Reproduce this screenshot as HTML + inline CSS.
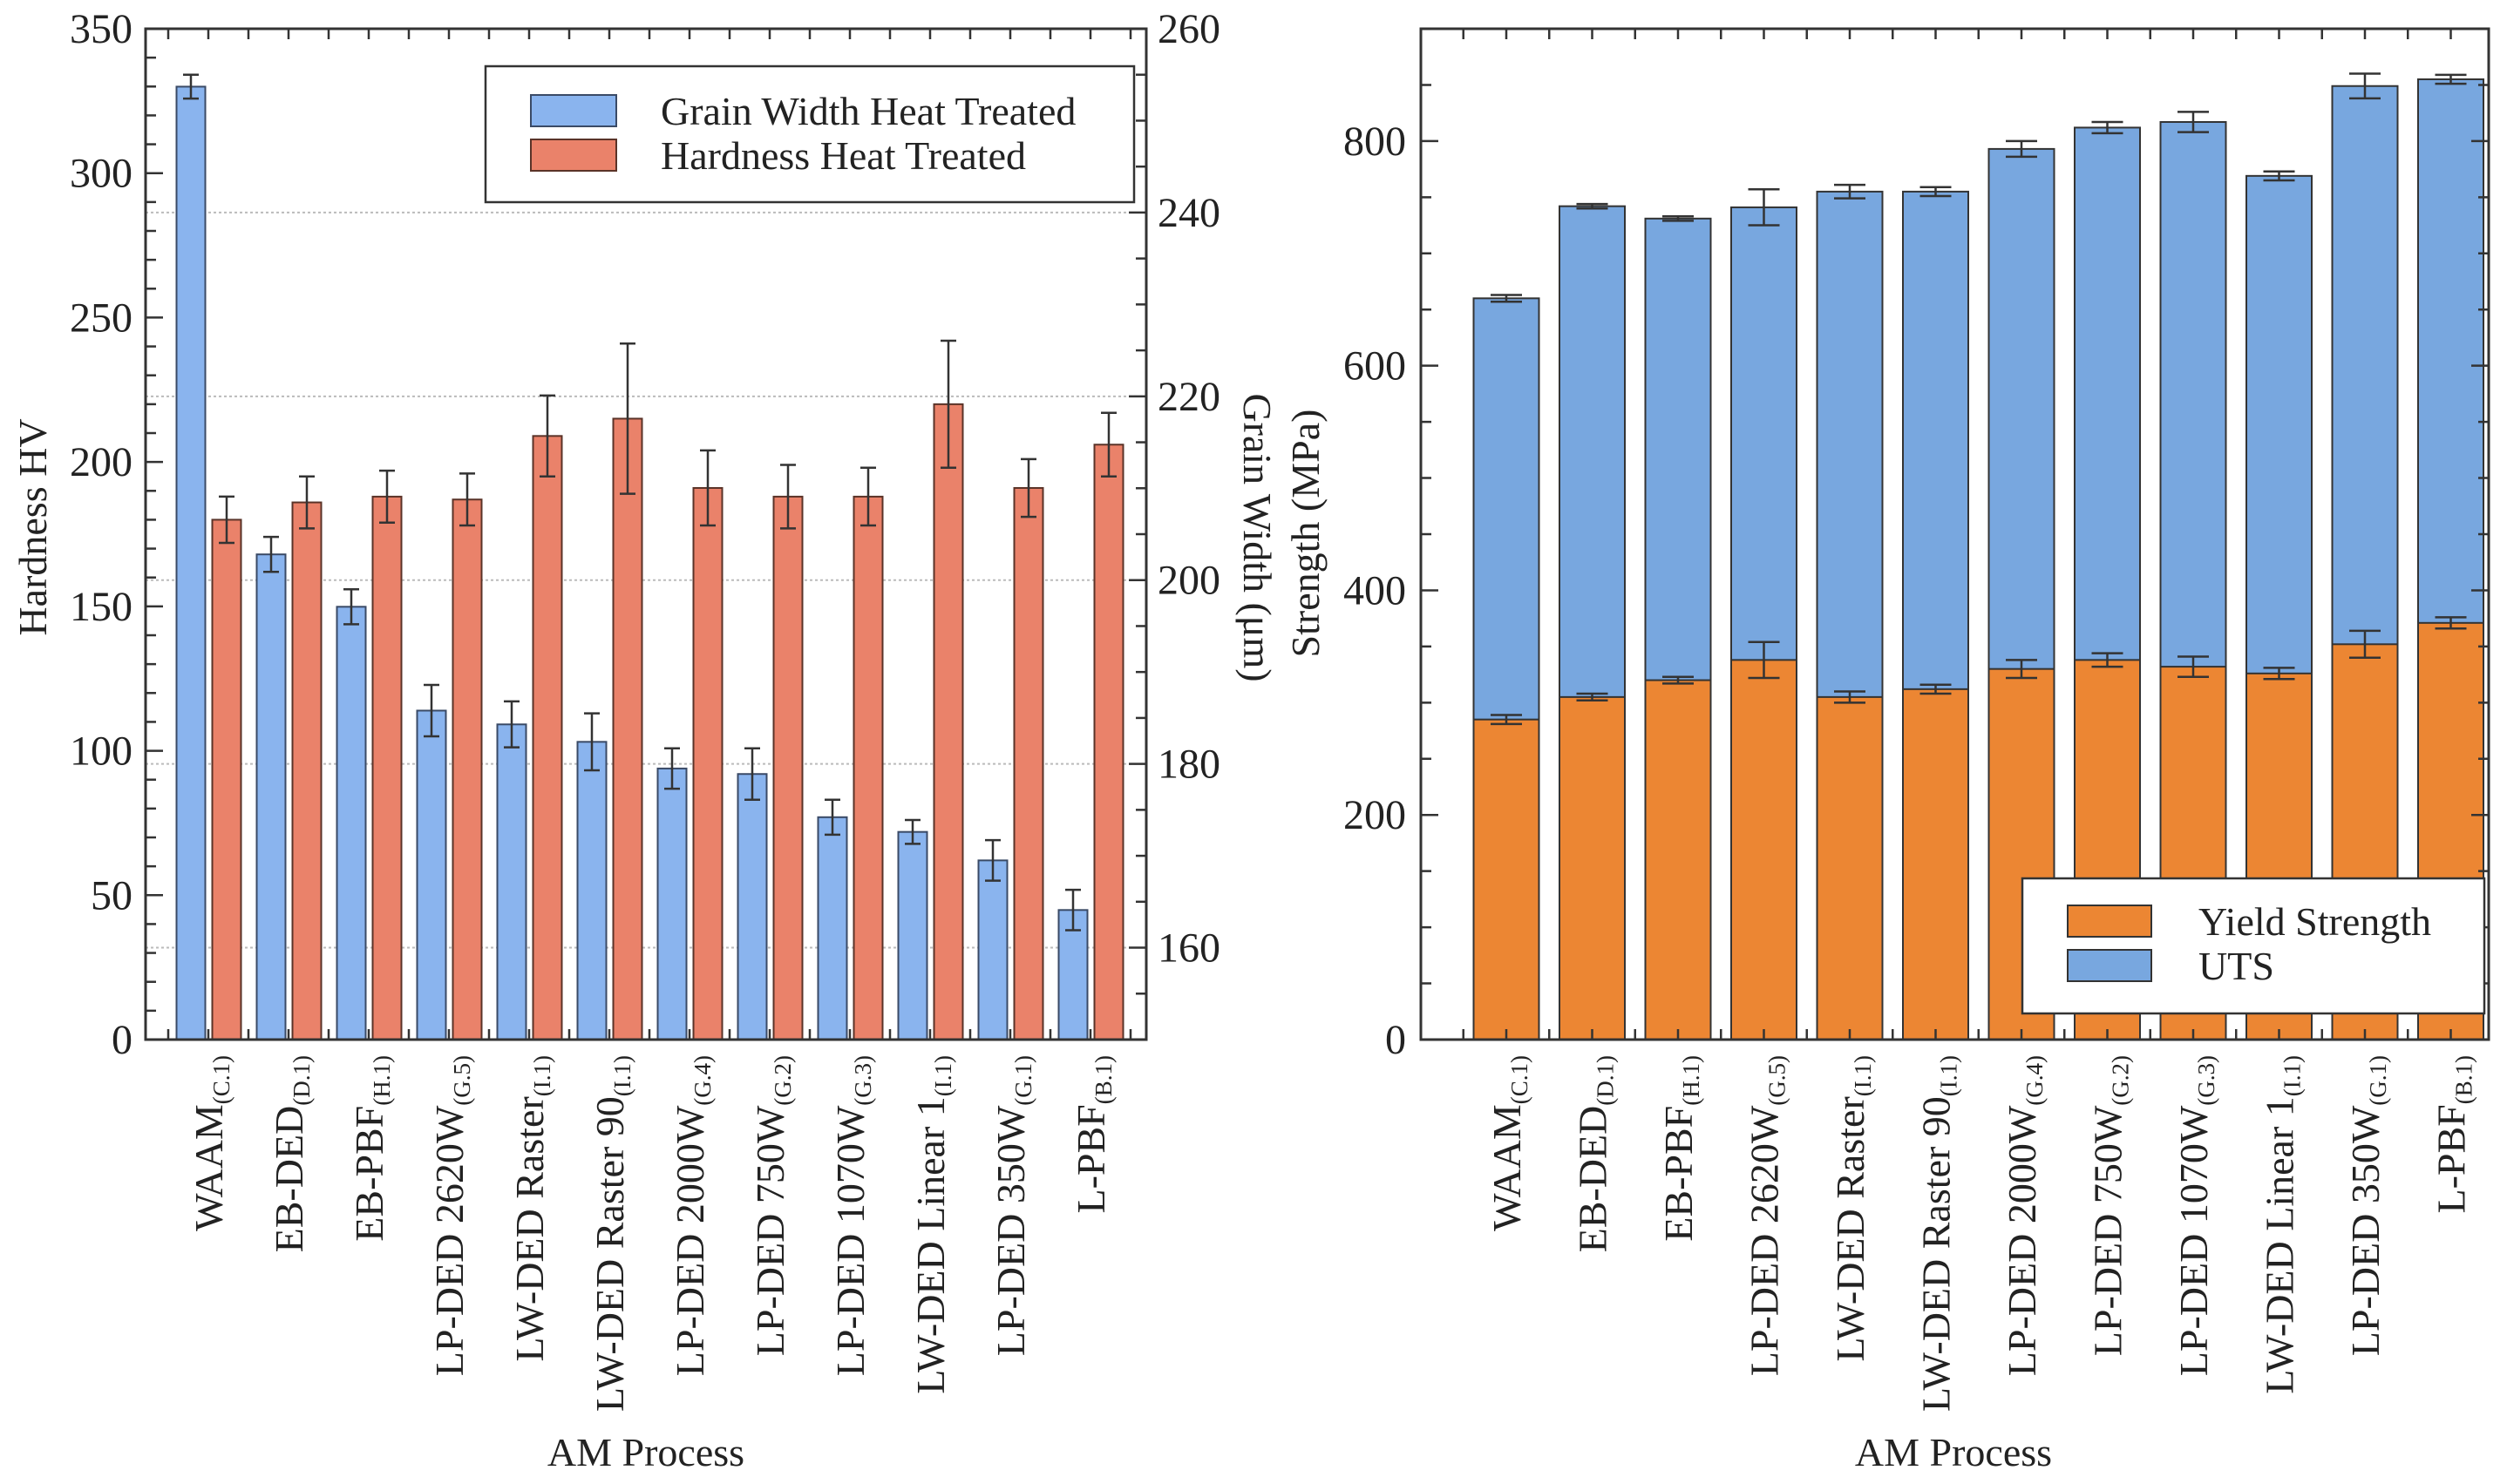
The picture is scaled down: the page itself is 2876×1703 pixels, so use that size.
<!DOCTYPE html>
<html><head><meta charset="utf-8"><style>
html,body{margin:0;padding:0;background:#fff;}
svg{display:block;font-family:"Liberation Serif",serif;}
</style></head><body>
<svg id="svg" width="2876" height="1703" viewBox="0 0 2876 1703" xmlns="http://www.w3.org/2000/svg">
<g id="left"></g>
<g id="right"></g>
</svg>
<script>
const categories = ["WAAM","EB-DED","EB-PBF","LP-DED 2620W","LW-DED Raster","LW-DED Raster 90","LP-DED 2000W","LP-DED 750W","LP-DED 1070W","LW-DED Linear 1","LP-DED 350W","L-PBF"];
const refs = ["(C.1)","(D.1)","(H.1)","(G.5)","(I.1)","(I.1)","(G.4)","(G.2)","(G.3)","(I.1)","(G.1)","(B.1)"];
const grainWidth = [253.7,202.8,197.1,185.8,184.3,182.4,179.5,178.9,174.2,172.6,169.5,164.1];
const grainErr = [1.3,1.9,1.9,2.8,2.5,3.1,2.2,2.8,1.9,1.3,2.2,2.2];
const hardness = [180,186,188,187,209,215,191,188,188,220,191,206];
const hardErr = [8,9,9,9,14,26,13,11,10,22,10,11];
const yieldStrength = [285,305,320,338,305,312,330,338,332,326,352,371];
const yieldErr = [4,3,3,16,5,4,8,6,9,5,12,5];
const uts = [660,742,731,741,755,755,793,812,817,769,849,855];
const utsErr = [3,2,2,16,6,4,7,5,9,4,11,4];
const hardTicks = [0,50,100,150,200,250,300,350];
const grainTicks = [160,180,200,220,240,260];
const strengthTicks = [0,200,400,600,800];

const NS="http://www.w3.org/2000/svg";
function mk(parent,tag,attrs,text){const e=document.createElementNS(NS,tag);for(const k in attrs)e.setAttribute(k,attrs[k]);if(text!==undefined)e.textContent=text;parent.appendChild(e);return e;}

// ---------- LEFT ----------
const L=document.getElementById('left');
const lx0=167,lx1=1315,ly0=33,ly1=1193;
const yH=v=>ly1-v*(ly1-ly0)/350;
const yG=v=>ly1-(v-150)*(ly1-ly0)/110;
const gx=i=>219+i*92;
// gridlines
grainTicks.forEach(t=>{if(t<260){const g=mk(L,'line',{x1:lx0,x2:lx1,y1:yG(t),y2:yG(t),stroke:'#bbb','stroke-width':2,'stroke-dasharray':'3,3'});

}});
categories.forEach((c,i)=>{
  const cx=gx(i);
  const b=mk(L,'rect',{x:cx-16.5,y:yG(grainWidth[i]),width:33,height:ly1-yG(grainWidth[i]),fill:'#8ab4ee',stroke:'#3a4a66','stroke-width':2});
  
  
  const r=mk(L,'rect',{x:cx+41-16.5,y:yH(hardness[i]),width:33,height:ly1-yH(hardness[i]),fill:'#ea826a',stroke:'#5a3328','stroke-width':2});
  
  
  [[cx,yG(grainWidth[i]+grainErr[i]),yG(grainWidth[i]-grainErr[i])],[cx+41,yH(hardness[i]+hardErr[i]),yH(hardness[i]-hardErr[i])]].forEach(e=>{
    const g=mk(L,'path',{d:`M${e[0]},${e[1]}V${e[2]}M${e[0]-9},${e[1]}H${e[0]+9}M${e[0]-9},${e[2]}H${e[0]+9}`,stroke:'#333','stroke-width':2.5,fill:'none'});
    
    
  });
  const t=mk(L,'text',{transform:`translate(${cx+20+16},1211) rotate(-90)`,'text-anchor':'end','font-size':46,fill:'#222'});
  
  
  mk(t,'tspan',{},c);mk(t,'tspan',{'font-size':27,dy:8},refs[i]);
});
// frame
mk(L,'rect',{x:lx0,y:ly0,width:lx1-lx0,height:ly1-ly0,fill:'none',stroke:'#333','stroke-width':3});
for(let x=193;x<lx1;x+=46){mk(L,'path',{d:`M${x},${ly0}v12M${x},${ly1}v-12`,stroke:'#333','stroke-width':2.5});}
for(let v=0;v<=350;v+=10){const y=yH(v);mk(L,'path',{d:`M${lx0},${y}h${v%50?12:20}`,stroke:'#333','stroke-width':2.5});}
for(let v=150;v<=260;v+=5){const y=yG(v);mk(L,'path',{d:`M${lx1},${y}h${v%20?-12:-20}`,stroke:'#333','stroke-width':2.5});}
hardTicks.forEach(t=>{const e=mk(L,'text',{x:152,y:yH(t)+16,'text-anchor':'end','font-size':48,fill:'#222'},t);

});
grainTicks.forEach(t=>{const e=mk(L,'text',{x:1328,y:yG(t)+16,'font-size':48,fill:'#222'},t);

});
let e=mk(L,'text',{transform:'translate(53,605) rotate(-90)','text-anchor':'middle','font-size':46,fill:'#222'},'Hardness HV');


e=mk(L,'text',{transform:'translate(1427,617) rotate(90)','text-anchor':'middle','font-size':46,fill:'#222'},'Grain Width (μm)');


e=mk(L,'text',{x:741,y:1682,'text-anchor':'middle','font-size':46,fill:'#222'},'AM Process');


// legend
const lg=mk(L,'g',{});


mk(lg,'rect',{x:557,y:76,width:744,height:156,fill:'#fff',stroke:'#333','stroke-width':2.5});
mk(lg,'rect',{x:609,y:109,width:98,height:36,fill:'#8ab4ee',stroke:'#3a4a66','stroke-width':2});
mk(lg,'rect',{x:609,y:160,width:98,height:36,fill:'#ea826a',stroke:'#5a3328','stroke-width':2});
mk(lg,'text',{x:758,y:143,'font-size':46,fill:'#222'},'Grain Width Heat Treated');
mk(lg,'text',{x:758,y:194,'font-size':46,fill:'#222'},'Hardness Heat Treated');

// ---------- RIGHT ----------
const R=document.getElementById('right');
const rx0=1630,rx1=2855,ry0=33,ry1=1193;
const yS=v=>ry1-v*(ry1-ry0)/900;
const bx=i=>1728+i*98.5;
categories.forEach((c,i)=>{
  const cx=bx(i);
  const u=mk(R,'rect',{x:cx-37.5,y:yS(uts[i]),width:75,height:ry1-yS(uts[i]),fill:'#78a7df',stroke:'#333','stroke-width':2});
  
  
  const y=mk(R,'rect',{x:cx-37.5,y:yS(yieldStrength[i]),width:75,height:ry1-yS(yieldStrength[i]),fill:'#ec8633',stroke:'#333','stroke-width':2});
  
  
  [[uts[i],utsErr[i]],[yieldStrength[i],yieldErr[i]]].forEach(p=>{
    const a=yS(p[0]+p[1]),b=yS(p[0]-p[1]);
    const g=mk(R,'path',{d:`M${cx},${a}V${b}M${cx-18},${a}H${cx+18}M${cx-18},${b}H${cx+18}`,stroke:'#333','stroke-width':2.5,fill:'none'});
    
    
  });
  const t=mk(R,'text',{transform:`translate(${cx+16},1211) rotate(-90)`,'text-anchor':'end','font-size':46,fill:'#222'});
  
  
  mk(t,'tspan',{},c);mk(t,'tspan',{'font-size':27,dy:8},refs[i]);
});
mk(R,'rect',{x:rx0,y:ry0,width:rx1-rx0,height:ry1-ry0,fill:'none',stroke:'#333','stroke-width':3});
for(let x=1728-49.25;x<rx1;x+=49.25){if(x>rx0)mk(R,'path',{d:`M${x},${ry0}v12M${x},${ry1}v-12`,stroke:'#333','stroke-width':2.5});}
for(let v=0;v<=900;v+=50){const y=yS(v);const l=v%200?12:20;mk(R,'path',{d:`M${rx0},${y}h${l}M${rx1},${y}h${-l}`,stroke:'#333','stroke-width':2.5});}
strengthTicks.forEach(t=>{const e=mk(R,'text',{x:1613,y:yS(t)+16,'text-anchor':'end','font-size':48,fill:'#222'},t);

});
e=mk(R,'text',{transform:'translate(1513,612) rotate(-90)','text-anchor':'middle','font-size':46,fill:'#222'},'Strength (MPa)');


e=mk(R,'text',{x:2241,y:1682,'text-anchor':'middle','font-size':46,fill:'#222'},'AM Process');


const rg=mk(R,'g',{});


mk(rg,'rect',{x:2320,y:1008,width:530,height:155,fill:'#fff',stroke:'#333','stroke-width':2.5});
mk(rg,'rect',{x:2372,y:1039,width:96,height:36,fill:'#ec8633',stroke:'#333','stroke-width':2});
mk(rg,'rect',{x:2372,y:1090,width:96,height:36,fill:'#78a7df',stroke:'#333','stroke-width':2});
mk(rg,'text',{x:2522,y:1073,'font-size':46,fill:'#222'},'Yield Strength');
mk(rg,'text',{x:2522,y:1124,'font-size':46,fill:'#222'},'UTS');
</script>
</body></html>
